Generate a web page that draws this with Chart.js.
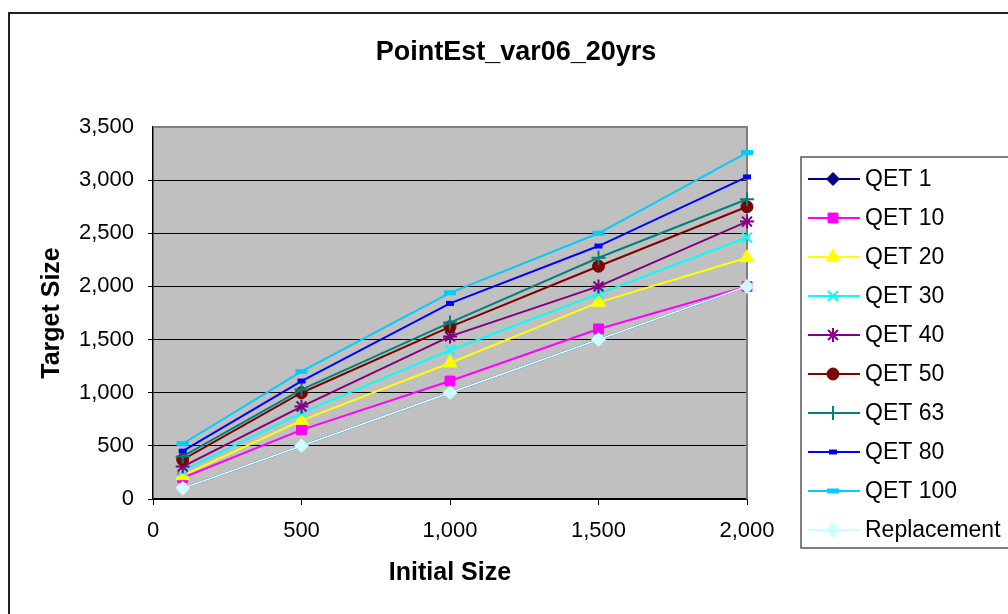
<!DOCTYPE html>
<html>
<head>
<meta charset="utf-8">
<title>PointEst_var06_20yrs</title>
<script src="https://cdn.jsdelivr.net/npm/chart.js@4/dist/chart.umd.min.js"></script>
<style>
  html, body { margin: 0; padding: 0; background: #ffffff; }
  #wrap { width: 1008px; height: 614px; position: relative; }
</style>
</head>
<body>
<div id="wrap"><canvas id="chart" width="1008" height="614"></canvas></div>
<script>
// Initial sizes (x) shared by every series
const initialSizes = [100, 500, 1000, 1500, 2000];

// Target sizes per series
const qet1        = [100, 500, 1000, 1500, 2000];
const qet10       = [200, 650, 1110, 1600, 2000];
const qet20       = [220, 740, 1280, 1850, 2270];
const qet30       = [265, 810, 1400, 1930, 2460];
const qet40       = [305, 870, 1530, 2000, 2610];
const qet50       = [370, 1000, 1620, 2190, 2750];
const qet63       = [400, 1030, 1660, 2270, 2820];
const qet80       = [450, 1110, 1840, 2380, 3030];
const qet100      = [520, 1200, 1940, 2500, 3260];
const replacement = [100, 500, 1000, 1500, 2000];

const seriesNames = ['QET 1', 'QET 10', 'QET 20', 'QET 30', 'QET 40', 'QET 50', 'QET 63', 'QET 80', 'QET 100', 'Replacement'];
const seriesValues = [qet1, qet10, qet20, qet30, qet40, qet50, qet63, qet80, qet100, replacement];

// Axis ticks
const xTicks = [0, 500, 1000, 1500, 2000];
const yTicks = [0, 500, 1000, 1500, 2000, 2500, 3000, 3500];

const FONT = "'Liberation Sans', Arial, sans-serif";

// Line colour and marker for each series
const styles = [
  { color: '#000080', pointStyle: 'rectRot',  radius: 6.5, filled: true },
  { color: '#FF00FF', pointStyle: 'rect',     radius: 7,   filled: true },
  { color: '#FFFF00', pointStyle: 'triangle', radius: 8,   filled: true },
  { color: '#00FFFF', pointStyle: 'crossRot', radius: 7,   filled: false, bw: 2 },
  { color: '#800080', pointStyle: 'star',     radius: 7,   filled: false, bw: 2 },
  { color: '#800000', pointStyle: 'circle',   radius: 6,   filled: true },
  { color: '#008080', pointStyle: 'cross',    radius: 7,   filled: false, bw: 2 },
  { color: '#0000FF', pointStyle: 'line',     radius: 4,   filled: false, bw: 5 },
  { color: '#00CCFF', pointStyle: 'line',     radius: 6,   filled: false, bw: 5 },
  { color: '#CCFFFF', pointStyle: 'rectRot',  radius: 7,   filled: true }
];

const N = seriesNames.length;
const datasets = seriesNames.map((name, i) => {
  const s = styles[i];
  return {
    label: name,
    data: initialSizes.map((x, j) => ({ x: x, y: seriesValues[i][j] })),
    showLine: true,
    tension: 0,
    borderColor: s.color,
    backgroundColor: s.color,
    borderWidth: 2,
    pointStyle: s.pointStyle,
    pointRadius: s.radius,
    pointHoverRadius: s.radius,
    pointBackgroundColor: s.color,
    pointBorderColor: s.color,
    pointBorderWidth: s.bw || 1,
    clip: false,
    order: N - 1 - i   // later series drawn on top
  };
});

// Plot background, plot frame, outer frame, title and legend
const decorations = {
  id: 'decorations',
  beforeDraw(chart) {
    const { ctx, chartArea: a } = chart;
    ctx.save();
    ctx.fillStyle = '#ffffff';
    ctx.fillRect(0, 0, chart.width, chart.height);
    ctx.fillStyle = '#C0C0C0';
    ctx.fillRect(a.left, a.top, a.right - a.left, a.bottom - a.top);
    ctx.restore();
  },
  beforeDatasetsDraw(chart) {
    const { ctx, chartArea: a } = chart;
    ctx.save();
    ctx.strokeStyle = '#808080';
    ctx.lineWidth = 2;
    ctx.beginPath();
    ctx.moveTo(a.left, a.top);
    ctx.lineTo(a.right, a.top);
    ctx.lineTo(a.right, a.bottom);
    ctx.stroke();
    ctx.restore();
  },
  afterDraw(chart) {
    const { ctx } = chart;
    ctx.save();
    // outer frame
    ctx.strokeStyle = '#222222';
    ctx.lineWidth = 2;
    ctx.strokeRect(9, 13, 1100, 700);

    // title
    ctx.fillStyle = '#000000';
    ctx.font = 'bold 27px ' + FONT;
    ctx.textAlign = 'center';
    ctx.textBaseline = 'middle';
    ctx.fillText('PointEst_var06_20yrs', 516, 53);

    // legend box
    ctx.fillStyle = '#ffffff';
    ctx.fillRect(801, 157, 300, 391);
    ctx.strokeStyle = '#555555';
    ctx.lineWidth = 1.5;
    ctx.strokeRect(801, 157, 300, 391);

    ctx.font = '23px ' + FONT;
    ctx.textAlign = 'left';
    ctx.textBaseline = 'middle';
    for (let i = 0; i < N; i++) {
      const y = 179 + 39 * i;
      const s = styles[i];
      ctx.strokeStyle = s.color;
      ctx.lineWidth = 2;
      ctx.beginPath();
      ctx.moveTo(808, y);
      ctx.lineTo(860, y);
      ctx.stroke();
      ctx.fillStyle = s.color;
      ctx.strokeStyle = s.color;
      ctx.lineWidth = s.bw || 1;
      Chart.helpers.drawPoint(ctx, { pointStyle: s.pointStyle, radius: s.radius, rotation: 0, borderWidth: s.bw || 1 }, 833, y);
      ctx.fillStyle = '#000000';
      ctx.fillText(seriesNames[i], 865, y + 1);
    }
    ctx.restore();
  }
};

const fmt = v => Number(v).toLocaleString('en-US');

new Chart(document.getElementById('chart'), {
  type: 'scatter',
  data: { datasets: datasets },
  plugins: [decorations],
  options: {
    responsive: false,
    animation: false,
    events: [],
    layout: { padding: { left: 0, top: 127, right: 261, bottom: 0 } },
    plugins: {
      legend: { display: false },
      title: { display: false },
      tooltip: { enabled: false }
    },
    scales: {
      x: {
        type: 'linear',
        min: xTicks[0],
        max: xTicks[xTicks.length - 1],
        afterBuildTicks: s => { s.ticks = xTicks.map(v => ({ value: v })); },
        afterFit: s => { s.height = 115; },
        ticks: {
          color: '#000000',
          font: { family: FONT, size: 22 },
          padding: 13,
          maxRotation: 0,
          callback: fmt
        },
        grid: {
          drawOnChartArea: false,
          drawTicks: true,
          tickLength: 6,
          color: '#000000',
          lineWidth: 1
        },
        border: { display: true, color: '#000000', width: 1.5 },
        title: {
          display: true,
          text: 'Initial Size',
          color: '#000000',
          font: { family: FONT, size: 25, weight: 'bold' },
          padding: { top: 0, bottom: 26 }
        }
      },
      y: {
        type: 'linear',
        min: yTicks[0],
        max: yTicks[yTicks.length - 1],
        afterBuildTicks: s => { s.ticks = yTicks.map(v => ({ value: v })); },
        afterFit: s => { s.width = 153; },
        ticks: {
          color: '#000000',
          font: { family: FONT, size: 22 },
          padding: 14,
          callback: fmt
        },
        grid: {
          drawTicks: true,
          tickLength: 5,
          color: c => (c.tick && c.tick.value === 3500) ? 'rgba(0,0,0,0)' : '#000000',
          lineWidth: 1
        },
        border: { display: true, color: '#000000', width: 1.5 },
        title: {
          display: true,
          text: 'Target Size',
          color: '#000000',
          font: { family: FONT, size: 25, weight: 'bold' },
          padding: { top: 37, bottom: 0 }
        }
      }
    }
  }
});
</script>
</body>
</html>
